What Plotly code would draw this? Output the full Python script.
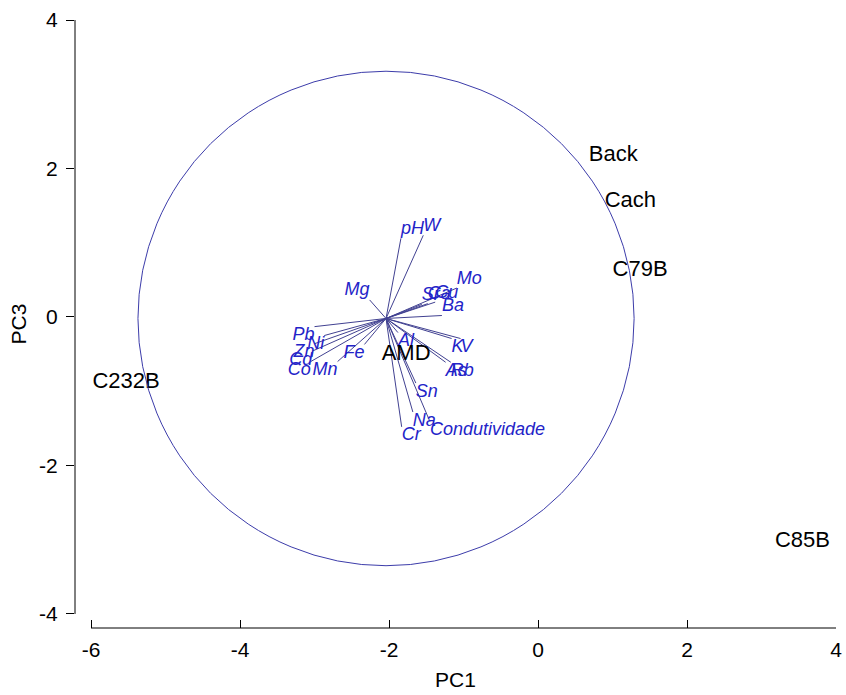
import plotly.graph_objects as go

# Sample scores (PC1, PC3)
samples = ["Back", "Cach", "C79B", "AMD", "C232B", "C85B"]
sample_pc1 = [1.01, 1.24, 1.37, -1.77, -5.53, 3.55]
sample_pc3 = [2.18, 1.55, 0.63, -0.51, -0.88, -3.02]

# Variable loadings (relative to the biplot origin)
variables = ["pH", "W", "Mg", "Mo", "Sr", "Ca", "Cu", "Ba", "K", "V", "As", "Rb",
             "Al", "Sn", "Na", "Cr", "Condutividade", "Fe", "Mn", "Co", "Cd", "Zn",
             "Ni", "Pb"]
load_pc1 = [0.20, 0.50, -0.22, 0.95, 0.48, 0.56, 0.66, 0.75, 0.88, 1.00, 0.80, 0.87,
            0.16, 0.40, 0.36, 0.21, 0.59, -0.29, -0.65, -1.01, -0.99, -0.96,
            -0.83, -0.96]
load_pc3 = [1.08, 1.12, 0.25, 0.41, 0.19, 0.20, 0.22, 0.04, -0.27, -0.27, -0.59, -0.59,
            -0.19, -0.87, -1.26, -1.46, -1.39, -0.35, -0.58, -0.58, -0.44, -0.34,
            -0.23, -0.11]

origin_x, origin_y = -2.04, -0.02
circle_r = 3.33

x_ticks = [-6, -4, -2, 0, 2, 4]
x_ticktext = ["-6", "-4", "-2", "0", "2", "4"]
y_ticks = [-4, -2, 0, 2, 4]
y_ticktext = ["-4", "-2", "0", "2", "4"]

FONT = "Arial, Liberation Sans, sans-serif"
LINE_COL = "rgb(65,65,145)"
VAR_COL = "rgb(35,35,200)"

fig = go.Figure()

# vector lines
lx, ly = [], []
for dx, dy in zip(load_pc1, load_pc3):
    lx += [origin_x, origin_x + dx, None]
    ly += [origin_y, origin_y + dy, None]
fig.add_trace(go.Scatter(x=lx, y=ly, mode="lines",
                         line=dict(color=LINE_COL, width=1),
                         hoverinfo="skip", showlegend=False))

# variable labels
def pos(dx, dy):
    v = "top" if dy >= 0 else "bottom"
    h = "right" if dx >= 0 else "left"
    return f"{v} {h}"

fig.add_trace(go.Scatter(
    x=[origin_x + d for d in load_pc1], y=[origin_y + d for d in load_pc3],
    mode="text", text=variables,
    textposition=[pos(a, b) for a, b in zip(load_pc1, load_pc3)],
    textfont=dict(family=FONT, size=18, color=VAR_COL, style="italic"),
    showlegend=False))

# sample labels
fig.add_trace(go.Scatter(
    x=sample_pc1, y=sample_pc3, mode="text", text=samples,
    textposition="middle center",
    textfont=dict(family=FONT, size=22, color="black"),
    showlegend=False))

# circle
fig.add_shape(type="circle", xref="x", yref="y",
              x0=origin_x - circle_r, x1=origin_x + circle_r,
              y0=origin_y - circle_r, y1=origin_y + circle_r,
              line=dict(color="rgb(60,60,170)", width=1))

# detached axis lines
fig.add_shape(type="line", xref="x", yref="paper", x0=-6, x1=4, y0=0, y1=0,
              line=dict(color="black", width=1))
fig.add_shape(type="line", xref="paper", yref="y", x0=0, x1=0, y0=-4, y1=4,
              line=dict(color="black", width=1))

fig.update_layout(
    width=846, height=695,
    margin=dict(l=75, r=10, t=20, b=67),
    plot_bgcolor="white", paper_bgcolor="white",
    font=dict(family=FONT, size=21, color="black"),
    xaxis=dict(range=[-6.215, 4.0], tickvals=x_ticks, ticktext=x_ticktext,
               ticks="inside", ticklen=8, automargin=False,
               tickcolor="black", showgrid=False, zeroline=False, showline=False,
               ticklabelstandoff=7, tickfont=dict(size=21),
               title=dict(text="PC1", standoff=12, font=dict(size=21))),
    yaxis=dict(range=[-4.189, 4.0], tickvals=y_ticks, ticktext=y_ticktext,
               ticks="outside", ticklen=8, automargin=False,
               tickcolor="black", showgrid=False, zeroline=False, showline=False,
               ticklabelstandoff=4, tickfont=dict(size=21),
               title=dict(text="PC3", standoff=6, font=dict(size=21))),
)

fig.write_html("out.html")
